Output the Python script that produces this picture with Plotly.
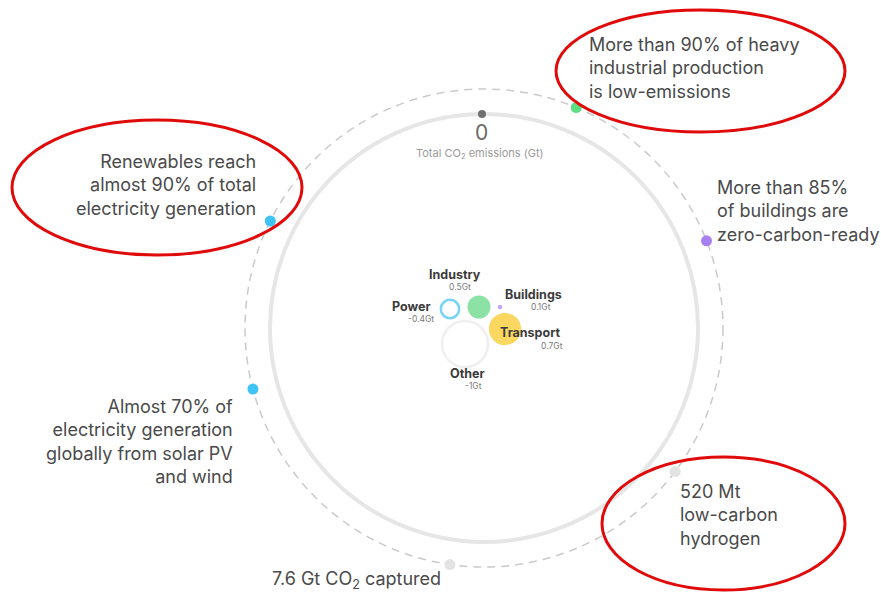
import math
import plotly.graph_objects as go

# Net-zero snapshot: remaining CO2 emissions by sector (Gt)
sectors = ["Power", "Industry", "Buildings", "Transport", "Other"]
sector_emissions = [-0.4, 0.5, 0.1, 0.7, -1.0]
total_emissions = 0

# Milestones placed around the ring
milestones = [
    "More than 90% of heavy<br>industrial production<br>is low-emissions",
    "More than 85%<br>of buildings are<br>zero-carbon-ready",
    "520 Mt<br>low-carbon<br>hydrogen",
    "7.6 Gt CO<sub>2</sub> captured",
    "Almost 70% of<br>electricity generation<br>globally from solar PV<br>and wind",
    "Renewables reach<br>almost 90% of total<br>electricity generation",
]
highlighted = [True, False, True, False, False, True]

# ---- layout / styling ----
W, H = 881, 601
CX, CY = 484, 328
R_RING, R_DASH = 214, 239
FONT = "Inter, Lato, sans-serif"
TEXT = "#4a4a4a"

milestone_angle = [67.3, 21.4, -36.9, -98.2, 194.8, 153.4]
milestone_color = ["#5ddf83", "#a87ff0", "#e3e3e3", "#e3e3e3", "#3fc3f3", "#3fc3f3"]
milestone_text_pos = [
    (587, 68, "left"), (715, 211, "left"), (678, 515, "left"),
    (270, 580, "left"), (235, 441, "right"), (258, 185, "right"),
]
ellipse_box = [(556, 10, 845, 132), None, (602, 457, 845, 590), None, None, (12, 120, 302, 255)]

sector_offset = [(-34, -19), (-5, -21), (16, -21), (21, 1), (-19, 16)]
sector_fill = ["white", "#5ad67d", "#a87ff0", "#f6c61c", "white"]
sector_line = ["#3fc3f3", "#5ad67d", "#a87ff0", "#f6c61c", "#e9e9e9"]
sector_name_pos = [(411, 306), (455, 274), (533, 294), (530, 332), (467, 373)]
sector_value_pos = [(421, 319), (460, 287), (541, 307), (552, 346), (473, 386)]
RADIUS_PER_GT = 23

fig = go.Figure()
shapes = [
    dict(type="circle", xref="x", yref="y", layer="below",
         x0=CX - R_DASH, x1=CX + R_DASH, y0=CY - R_DASH, y1=CY + R_DASH,
         line=dict(color="#cacaca", width=1.5, dash="8px,6px")),
    dict(type="circle", xref="x", yref="y", layer="below",
         x0=CX - R_RING, x1=CX + R_RING, y0=CY - R_RING, y1=CY + R_RING,
         line=dict(color="#e6e6e6", width=4)),
]

# milestone dots on the dashed ring
mx = [CX + R_DASH * math.cos(math.radians(a)) for a in milestone_angle]
my = [CY - R_DASH * math.sin(math.radians(a)) for a in milestone_angle]
fig.add_trace(go.Scatter(x=mx, y=my, mode="markers", hoverinfo="skip",
                         marker=dict(size=11, color=milestone_color, line=dict(width=0))))

# total-emissions marker at the top of the solid ring
fig.add_trace(go.Scatter(x=[CX - 2], y=[CY - R_RING], mode="markers", hoverinfo="skip",
                         marker=dict(size=8, color="#6f6f6f")))

# sector bubbles, radius proportional to |emissions|
bx = [CX + dx for dx, dy in sector_offset]
by = [CY + dy for dx, dy in sector_offset]
sizes = [2 * RADIUS_PER_GT * abs(v) for v in sector_emissions]
fig.add_trace(go.Scatter(
    x=bx, y=by, mode="markers", hoverinfo="skip",
    marker=dict(size=sizes, sizemode="diameter", color=sector_fill,
                line=dict(color=sector_line,
                          width=[2.5 if v < 0 else 0 for v in sector_emissions]))))

annotations = []
for text, (x, y, side) in zip(milestones, milestone_text_pos):
    annotations.append(dict(x=x, y=y, xref="x", yref="y", text=text, showarrow=False,
                            xanchor=side, yanchor="middle", align=side,
                            font=dict(family=FONT, size=18, color=TEXT)))

for name, v, (nx, ny), (vx, vy) in zip(sectors, sector_emissions, sector_name_pos, sector_value_pos):
    annotations.append(dict(x=nx, y=ny, xref="x", yref="y", text=f"<b>{name}</b>",
                            showarrow=False, xanchor="center", yanchor="middle",
                            font=dict(family=FONT, size=12.5, color="#3b3b3b")))
    annotations.append(dict(x=vx, y=vy, xref="x", yref="y", text=f"{v:g}Gt",
                            showarrow=False, xanchor="center", yanchor="middle",
                            font=dict(family=FONT, size=8.5, color="#7a7a7a")))

annotations.append(dict(x=CX - 3, y=132, xref="x", yref="y", text=f"{total_emissions}",
                        showarrow=False, xanchor="center", yanchor="middle",
                        font=dict(family=FONT, size=21, color="#6a6a6a")))
annotations.append(dict(x=CX - 4, y=153, xref="x", yref="y",
                        text="Total CO<sub>2</sub> emissions (Gt)",
                        showarrow=False, xanchor="center", yanchor="middle",
                        font=dict(family=FONT, size=11, color="#9a9a9a")))

# red highlight ellipses around the key milestones
for hi, box in zip(highlighted, ellipse_box):
    if hi and box:
        x0, y0, x1, y1 = box
        shapes.append(dict(type="circle", xref="x", yref="y", layer="above",
                           x0=x0, x1=x1, y0=y0, y1=y1,
                           line=dict(color="#e10a0a", width=3)))

fig.update_layout(
    width=W, height=H, margin=dict(l=0, r=0, t=0, b=0),
    paper_bgcolor="white", plot_bgcolor="white", showlegend=False,
    xaxis=dict(range=[0, W], visible=False, fixedrange=True),
    yaxis=dict(range=[H, 0], visible=False, fixedrange=True),
    shapes=shapes, annotations=annotations,
)
fig.write_html("out.html")
